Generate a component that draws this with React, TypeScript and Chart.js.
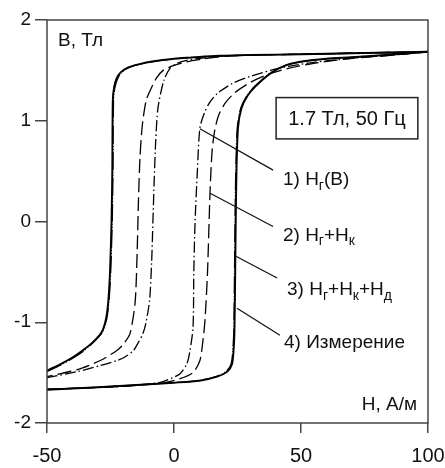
import React, { useEffect, useRef } from "react";
import { Chart, registerables } from "chart.js";

Chart.register(...registerables);

// ---- axis ticks ----
const xTicks = [-50, 0, 50, 100];
const yTicks = [-2, -1, 0, 1, 2];

// ---- 4) measured loop (solid) ----
const measDescH = [100, 70, 50, 30, 18, 5, 0, -8, -14, -18, -21, -22.6, -23.6, -24.1, -24.3, -24.6, -25.2, -25.9, -26.8, -28.5, -32, -36, -40, -45, -50];
const measDescB = [1.685, 1.67, 1.66, 1.652, 1.645, 1.625, 1.615, 1.59, 1.56, 1.53, 1.48, 1.42, 1.33, 1.2, 0.5, 0, -0.5, -0.8, -0.97, -1.1, -1.2, -1.28, -1.35, -1.42, -1.48];
const measAscH = [-50, -30, -13, 0, 10, 17, 21, 22.8, 23.4, 23.8, 24.1, 24.3, 24.6, 25.2, 26.5, 29, 32, 38, 44, 51, 60, 70, 85, 100];
const measAscB = [-1.67, -1.645, -1.62, -1.6, -1.58, -1.54, -1.49, -1.42, -1.3, -1.1, -0.5, 0, 0.5, 0.93, 1.12, 1.25, 1.34, 1.47, 1.55, 1.59, 1.615, 1.63, 1.655, 1.685];

// ---- 3) Hг+Hк+Hд (dash-dot-dot, close to measured) ----
const l3DescH = [100, 70, 50, 30, 18, 5, 0, -8, -14, -18, -20.8, -22.3, -23.3, -23.8, -24.0, -24.3, -24.9, -25.6, -26.5, -28.2, -31.7, -35.8, -40, -45, -50];
const l3DescB = [1.685, 1.67, 1.66, 1.652, 1.645, 1.625, 1.613, 1.587, 1.557, 1.525, 1.475, 1.41, 1.32, 1.2, 0.5, 0, -0.5, -0.8, -0.97, -1.1, -1.2, -1.29, -1.36, -1.43, -1.49];
const l3AscH = [-50, -30, -13, 0, 10, 17, 20.7, 22.5, 23.1, 23.5, 23.8, 24.0, 24.3, 24.9, 26.2, 28.7, 31.7, 37.7, 43.8, 51, 60, 70, 85, 100];
const l3AscB = [-1.67, -1.645, -1.62, -1.6, -1.578, -1.535, -1.485, -1.41, -1.29, -1.1, -0.5, 0, 0.5, 0.93, 1.12, 1.25, 1.34, 1.47, 1.55, 1.59, 1.615, 1.63, 1.655, 1.685];

// ---- 2) Hг+Hк (long dash) ----
const l2DescH = [100, 70, 50, 30, 20, 12, 5, 0, -4.3, -7, -9.4, -11, -12.5, -13.4, -14, -14.5, -15.3, -17.3, -20, -22.5, -29, -38, -50];
const l2DescB = [1.685, 1.67, 1.66, 1.652, 1.64, 1.615, 1.585, 1.55, 1.5, 1.42, 1.3, 1.2, 0.95, 0.63, 0.2, -0.3, -0.8, -1.11, -1.22, -1.28, -1.38, -1.47, -1.54];
const l2AscH = [-50, -20, -5, 2.4, 7.5, 10.2, 11.4, 12.2, 13.2, 14.2, 15, 16, 17.5, 20, 24, 30, 37, 45, 55, 70, 85, 100];
const l2AscB = [-1.665, -1.635, -1.605, -1.56, -1.5, -1.38, -1.18, -0.98, -0.5, 0.3, 0.7, 0.9, 1.05, 1.17, 1.28, 1.38, 1.46, 1.52, 1.57, 1.62, 1.65, 1.685];

// ---- 1) Hг(B) (dash-dot) ----
const l1DescH = [100, 70, 50, 30, 20, 12, 5, 1.2, -1.6, -4, -6.3, -7.2, -7.8, -8.3, -8.8, -9.6, -11, -12.2, -14, -16, -19, -22.4, -29, -38, -50];
const l1DescB = [1.685, 1.67, 1.66, 1.652, 1.642, 1.625, 1.6, 1.57, 1.52, 1.4, 1.13, 0.8, 0.4, 0, -0.4, -0.78, -1.0, -1.11, -1.2, -1.28, -1.34, -1.38, -1.43, -1.49, -1.55];
const l1AscH = [-50, -20, -6, -2.8, 2.4, 5.1, 6.3, 7.5, 7.8, 8.3, 9.2, 10.2, 12, 14, 17, 23, 30, 38, 45, 55, 70, 85, 100];
const l1AscB = [-1.665, -1.635, -1.6, -1.575, -1.51, -1.41, -1.28, -1.05, -0.5, 0, 0.5, 0.93, 1.08, 1.18, 1.27, 1.37, 1.44, 1.5, 1.54, 1.58, 1.62, 1.65, 1.685];

// ---- annotations (data coordinates) ----
const labelTexts = [
  [["1) H", 0], ["г", 1], ["(B)", 0]],
  [["2) H", 0], ["г", 1], ["+H", 0], ["к", 1]],
  [["3) H", 0], ["г", 1], ["+H", 0], ["к", 1], ["+H", 0], ["д", 1]],
  [["4) Измерение", 0]],
];
const labelH = [42.9, 42.9, 44.5, 43.3];
const labelB = [0.41, -0.14, -0.68, -1.2];
const leaderFromH = [10.2, 14.2, 24.0, 24.8];
const leaderFromB = [0.92, 0.28, -0.34, -0.86];
const leaderToH = [39.0, 39.0, 40.6, 41.7];
const leaderToB = [0.51, -0.05, -0.56, -1.13];
const infoText = "1.7 Тл, 50 Гц";
const infoBoxH = [40.2, 96.0];
const infoBoxB = [1.23, 0.82];
const yTitle = "B, Тл";
const xTitle = "H, А/м";

const FONT = '"Liberation Sans", Arial, sans-serif';

function branchPoints(dH: number[], dB: number[], aH: number[], aB: number[]) {
  const pts: any[] = dH.map((h, i) => ({ x: h, y: dB[i] }));
  pts.push({ x: null, y: null });
  aH.forEach((h, i) => pts.push({ x: h, y: aB[i] }));
  return pts;
}

const overlay = {
  id: "overlay",
  afterDatasetsDraw(chart: any) {
    const { ctx, chartArea, scales } = chart;
    const xs = scales.x;
    const ys = scales.y;
    const X = (v: number) => xs.getPixelForValue(v);
    const Y = (v: number) => ys.getPixelForValue(v);
    ctx.save();
    // frame
    ctx.strokeStyle = "#444";
    ctx.lineWidth = 1.5;
    ctx.strokeRect(chartArea.left, chartArea.top, chartArea.right - chartArea.left, chartArea.bottom - chartArea.top);
    // leader lines
    ctx.strokeStyle = "#111";
    ctx.lineWidth = 1.2;
    for (let i = 0; i < leaderFromH.length; i++) {
      ctx.beginPath();
      ctx.moveTo(X(leaderFromH[i]), Y(leaderFromB[i]));
      ctx.lineTo(X(leaderToH[i]), Y(leaderToB[i]));
      ctx.stroke();
    }
    // labels
    ctx.fillStyle = "#111";
    ctx.textBaseline = "middle";
    ctx.textAlign = "left";
    labelTexts.forEach((parts, i) => {
      let x = X(labelH[i]);
      const y = Y(labelB[i]);
      parts.forEach(([t, sub]: any) => {
        ctx.font = sub ? `14px ${FONT}` : `19px ${FONT}`;
        ctx.fillText(t, x, sub ? y + 6 : y);
        x += ctx.measureText(t).width;
      });
    });
    // info box
    const bx0 = X(infoBoxH[0]), bx1 = X(infoBoxH[1]);
    const by0 = Y(infoBoxB[0]), by1 = Y(infoBoxB[1]);
    ctx.strokeStyle = "#222";
    ctx.lineWidth = 1.5;
    ctx.fillStyle = "#fff";
    ctx.fillRect(bx0, by0, bx1 - bx0, by1 - by0);
    ctx.strokeRect(bx0, by0, bx1 - bx0, by1 - by0);
    ctx.fillStyle = "#111";
    ctx.font = `20px ${FONT}`;
    ctx.textAlign = "center";
    ctx.fillText(infoText, (bx0 + bx1) / 2, (by0 + by1) / 2 + 1);
    // axis titles
    ctx.font = `19px ${FONT}`;
    ctx.textAlign = "left";
    ctx.fillText(yTitle, chartArea.left + 11, chartArea.top + 21);
    ctx.textAlign = "right";
    ctx.fillText(xTitle, chartArea.right - 11, chartArea.bottom - 18);
    ctx.restore();
  },
};

export default function App() {
  const ref = useRef<HTMLCanvasElement>(null);
  useEffect(() => {
    document.body.style.margin = "0";
    const common = { showLine: true, pointRadius: 0, fill: false, tension: 0.25, spanGaps: false, borderColor: "#000" };
    const chart = new Chart(ref.current!, {
      type: "scatter",
      data: {
        datasets: [
          { ...common, label: "1", data: branchPoints(l1DescH, l1DescB, l1AscH, l1AscB), borderWidth: 1.3, borderDash: [11, 3, 1.5, 3] },
          { ...common, label: "2", data: branchPoints(l2DescH, l2DescB, l2AscH, l2AscB), borderWidth: 1.3, borderDash: [14, 5] },
          { ...common, label: "3", data: branchPoints(l3DescH, l3DescB, l3AscH, l3AscB), borderWidth: 1.2, borderDash: [18, 2, 1, 2, 1, 2] },
          { ...common, label: "4", data: branchPoints(measDescH, measDescB, measAscH, measAscB), borderWidth: 1.9 },
        ] as any,
      },
      options: {
        responsive: false,
        animation: false,
        devicePixelRatio: 1,
        layout: { padding: { top: 20, right: 17, left: 0, bottom: 0 } },
        plugins: { legend: { display: false }, tooltip: { enabled: false } },
        scales: {
          x: {
            type: "linear",
            min: xTicks[0],
            max: xTicks[xTicks.length - 1],
            afterBuildTicks: (s: any) => { s.ticks = xTicks.map((v) => ({ value: v })); },
            afterFit: (s: any) => { s.height = 45; s.paddingLeft = 0; s.paddingRight = 0; },
            ticks: { color: "#111", font: { size: 20, family: FONT }, padding: 11, maxRotation: 0 },
            grid: { drawOnChartArea: false, drawTicks: true, tickLength: 10, color: "#444", lineWidth: 1.5 },
            border: { display: false },
          },
          y: {
            type: "linear",
            min: yTicks[0],
            max: yTicks[yTicks.length - 1],
            afterBuildTicks: (s: any) => { s.ticks = yTicks.map((v) => ({ value: v })); },
            afterFit: (s: any) => { s.width = 47; s.paddingTop = 0; s.paddingBottom = 0; },
            ticks: { color: "#111", font: { size: 19, family: FONT }, padding: 4 },
            grid: { drawOnChartArea: false, drawTicks: true, tickLength: 12, color: "#444", lineWidth: 1.5 },
            border: { display: false },
          },
        },
      } as any,
      plugins: [overlay],
    });
    return () => chart.destroy();
  }, []);
  return (
    <div style={{ position: "absolute", left: 0, top: 0, width: 445, height: 468, background: "#fff" }}>
      <canvas ref={ref} width={445} height={468} />
    </div>
  );
}
